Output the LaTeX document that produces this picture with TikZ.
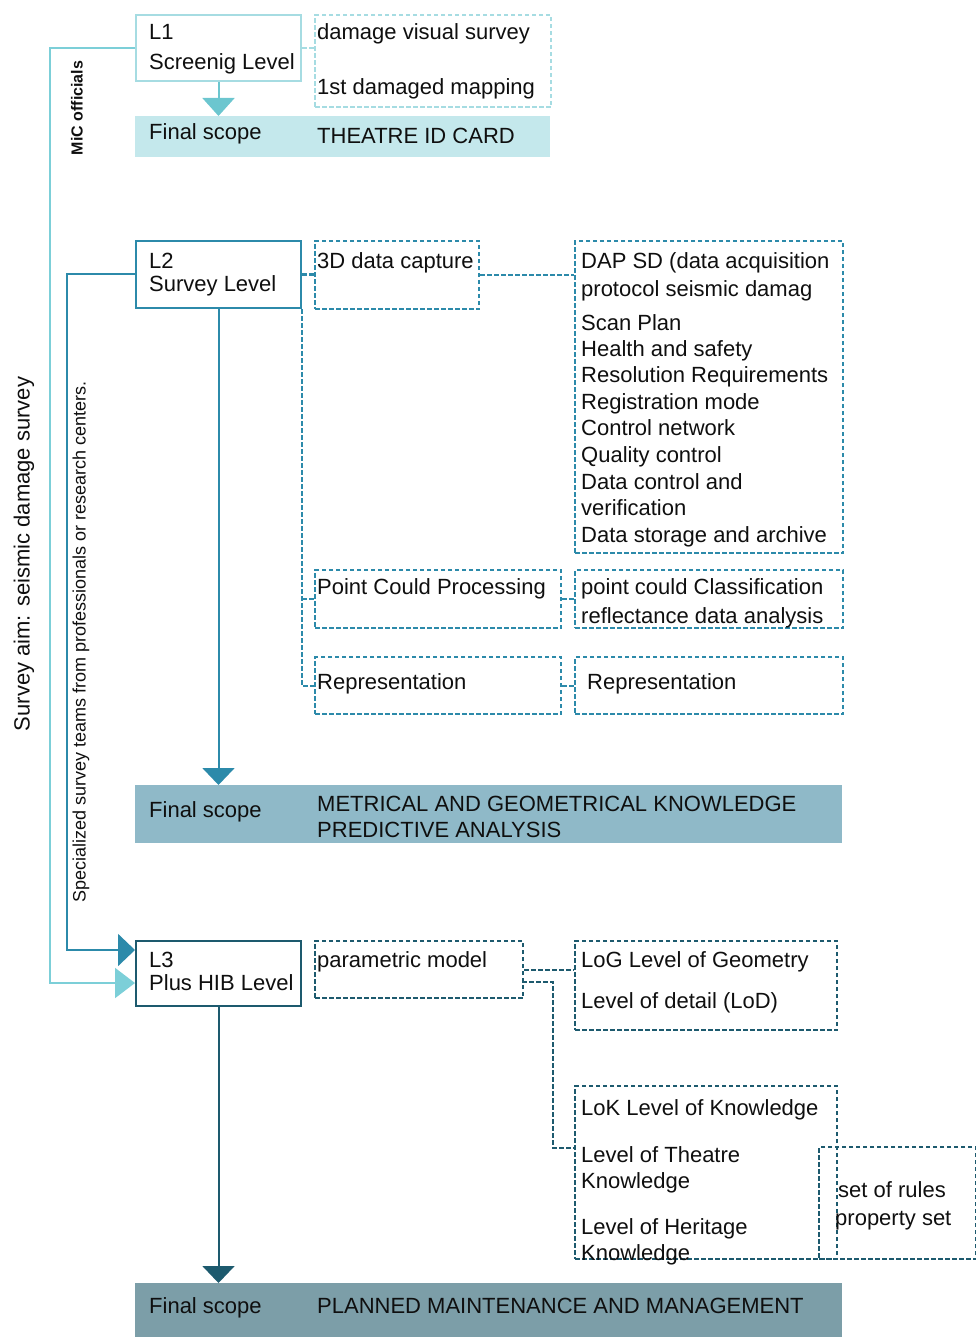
\documentclass[tikz,border=0pt]{standalone}
\usepackage{fontspec}
\setmainfont{Liberation Sans}
\usetikzlibrary{arrows.meta}
\definecolor{lcyan}{HTML}{7CCFD8}
\definecolor{lbox}{HTML}{A6DCE2}
\definecolor{larrow}{HTML}{6CC6CF}
\definecolor{bandA}{HTML}{C4E8EC}
\definecolor{midteal}{HTML}{2C8AAA}
\definecolor{bandB}{HTML}{8FB9C8}
\definecolor{darkteal}{HTML}{1D5A6E}
\definecolor{bandC}{HTML}{7C9EA8}
\definecolor{ink}{HTML}{0F0F0F}
\begin{document}
\begin{tikzpicture}[x=1pt,y=-1pt,
  tx/.style={font=\fontsize{22}{26}\selectfont, inner sep=0pt, anchor=base west, text=ink},
  sbox/.style={draw, line width=2pt, fill=white, anchor=north west, inner sep=0pt},
  dbox/.style={draw, line width=2.2pt, dash pattern=on 4.5pt off 2.5pt, anchor=north west, inner sep=0pt},
  band/.style={draw=none, anchor=north west, inner sep=0pt},
  dcon/.style={line width=2.2pt, dash pattern=on 4.5pt off 2.5pt},
  vtx/.style={inner sep=0pt, rotate=90, text=ink}
]
\useasboundingbox (0,0) rectangle (976,1337);

% ---------------- bands
\node[band, fill=bandA, minimum width=415pt, minimum height=41pt] (B1) at (135,116) {};
\node[band, fill=bandB, minimum width=707pt, minimum height=58pt] (B2) at (135,785) {};
\node[band, fill=bandC, minimum width=707pt, minimum height=54pt] (B3) at (135,1283) {};

% ---------------- level boxes
\node[sbox, draw=lbox, minimum width=165pt, minimum height=66pt] (L1) at (135,14) {};
\node[sbox, draw=midteal, minimum width=165pt, minimum height=67pt] (L2) at (135,240) {};
\node[sbox, draw=darkteal, minimum width=165pt, minimum height=65pt] (L3) at (135,940) {};

% ---------------- dashed boxes
\node[dbox, draw=lbox, minimum width=236pt, minimum height=92pt] (D1) at (314,14) {};
\node[dbox, draw=midteal, minimum width=164pt, minimum height=68pt] (C3D) at (314,240) {};
\node[dbox, draw=midteal, minimum width=268pt, minimum height=312pt] (DAP) at (574,240) {};
\node[dbox, draw=midteal, minimum width=246pt, minimum height=58pt] (PCP) at (314,569) {};
\node[dbox, draw=midteal, minimum width=268pt, minimum height=58pt] (PC2) at (574,569) {};
\node[dbox, draw=midteal, minimum width=246pt, minimum height=57pt] (REP1) at (314,656) {};
\node[dbox, draw=midteal, minimum width=268pt, minimum height=57pt] (REP2) at (574,656) {};
\node[dbox, draw=darkteal, minimum width=208pt, minimum height=57pt] (PM) at (314,940) {};
\node[dbox, draw=darkteal, minimum width=262pt, minimum height=89pt] (LOG) at (574,940) {};
\node[dbox, draw=darkteal, minimum width=262pt, minimum height=173pt] (LOK) at (574,1085) {};
\node[dbox, draw=darkteal, minimum width=157pt, minimum height=112pt] (SR) at (818,1146) {};

% ---------------- texts
\node[tx] (t1a) at (149,40) {L1};
\node[tx] (t1b) at (149,70) {Screenig Level};
\node[tx] (t1c) at (317,40) {damage visual survey};
\node[tx] (t1d) at (317,95) {1st damaged mapping};
\node[tx] (t1e) at (149,140) {Final scope};
\node[tx] (t1f) at (317,144) {THEATRE ID CARD};

\node[tx] (t2a) at (149,269) {L2};
\node[tx] (t2b) at (149,292) {Survey Level};
\node[tx] (t2c) at (317,269) {3D data capture};
\node[tx] (d1) at (581,269) {DAP SD (data acquisition};
\node[tx] (d2) at (581,297) {protocol seismic damag};
\node[tx] (d3) at (581,330) {Scan Plan};
\node[tx] (d4) at (581,356) {Health and safety};
\node[tx] (d5) at (581,382) {Resolution Requirements};
\node[tx] (d6) at (581,409) {Registration mode};
\node[tx] (d7) at (581,435) {Control network};
\node[tx] (d8) at (581,462) {Quality control};
\node[tx] (d9) at (581,489) {Data control and};
\node[tx] (d10) at (581,515) {verification};
\node[tx] (d11) at (581,542) {Data storage and archive};
\node[tx] (p1) at (317,594) {Point Could Processing};
\node[tx] (p2) at (581,594) {point could Classification};
\node[tx] (p3) at (581,623) {reflectance data analysis};
\node[tx] (r1) at (317,689) {Representation};
\node[tx] (r2) at (587,689) {Representation};
\node[tx] (t2d) at (149,817) {Final scope};
\node[tx] (t2e) at (317,811) {METRICAL AND GEOMETRICAL KNOWLEDGE};
\node[tx] (t2f) at (317,837) {PREDICTIVE ANALYSIS};

\node[tx] (t3a) at (149,967) {L3};
\node[tx] (t3b) at (149,990) {Plus HIB Level};
\node[tx] (t3c) at (317,967) {parametric model};
\node[tx] (g1) at (581,967) {LoG Level of Geometry};
\node[tx] (g2) at (581,1008) {Level of detail (LoD)};
\node[tx] (k1) at (581,1115) {LoK Level of Knowledge};
\node[tx] (k2) at (581,1162) {Level of Theatre};
\node[tx] (k3) at (581,1188) {Knowledge};
\node[tx] (k4) at (581,1234) {Level of Heritage};
\node[tx] (k5) at (581,1260) {Knowledge};
\node[tx] (s1) at (838,1197) {set of rules};
\node[tx] (s2) at (835,1225) {property set};
\node[tx] (t3d) at (149,1313) {Final scope};
\node[tx] (t3e) at (317,1313) {PLANNED MAINTENANCE AND MANAGEMENT};

% vertical texts
\node[vtx, font=\fontsize{22}{26}\selectfont] (va) at (24,554) {Survey aim: seismic damage survey};
\node[vtx, font=\fontsize{18}{20}\selectfont] (vb) at (81,642) {Specialized survey teams from professionals or research centers.};
\node[vtx, font=\bfseries\fontsize{16}{18}\selectfont] (vc) at (77,108) {MiC officials};

% ---------------- connectors
\coordinate (l3a) at (135,950);
\coordinate (l3b) at (135,983);
\draw[lcyan, line width=2pt, -{Triangle[length=20pt,width=30pt]}] (L1.west) -- ++(-85,0) |- (l3b);
\draw[midteal, line width=2pt, -{Triangle[length=17pt,width=32pt]}] (L2.west) -- ++(-68,0) |- (l3a);

\draw[larrow, line width=2pt, -{Triangle[length=18pt,width=32pt]}] (L1.south) -- (L1.south |- B1.north);
\draw[midteal, line width=2pt, -{Triangle[length=17pt,width=32pt]}] (L2.south) -- (L2.south |- B2.north);
\draw[darkteal, line width=2pt, -{Triangle[length=17pt,width=32pt]}] (L3.south) -- (L3.south |- B3.north);

\draw[dcon, lbox] (L1.east) -- (D1.west |- L1.east);
\draw[dcon, midteal] (L2.east) -- (C3D.west |- L2.east);
\draw[dcon, midteal] (C3D.east) -- (DAP.west |- C3D.east);
\draw[dcon, midteal] (L2.south east) |- (REP1.west);
\draw[dcon, midteal] (L2.south east |- PCP.west) -- (PCP.west);
\draw[dcon, midteal] (PCP.east) -- (PC2.west);
\draw[dcon, midteal] (REP1.east) -- (REP2.west);

\coordinate (pmb) at (522,982);
\coordinate (lokin) at (574,1148);
\draw[dcon, darkteal] (PM.east) -- (LOG.west |- PM.east);
\draw[dcon, darkteal] (pmb) -- (553,982) |- (lokin);
\end{tikzpicture}
\end{document}
